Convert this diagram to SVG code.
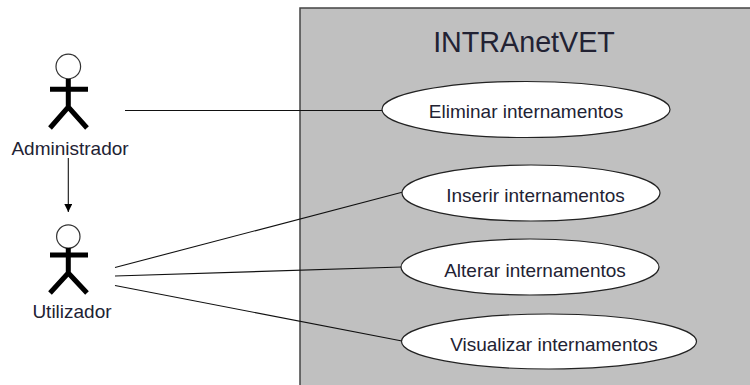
<svg xmlns="http://www.w3.org/2000/svg" width="750" height="385" viewBox="0 0 750 385">
<style>
text{font-family:"Liberation Sans",Arial,sans-serif;fill:#222233;text-anchor:middle}
.lbl{font-size:19px}
.uc ellipse{fill:#fff;stroke:#222;stroke-width:1.2}
.actor circle{fill:#fff;stroke:#333;stroke-width:1.2}
.actor path{fill:none;stroke:#000;stroke-width:5}
.conn line{stroke:#111;stroke-width:1.1}
</style>
<defs>
<marker id="arr" viewBox="0 0 10 10" refX="10" refY="5" markerWidth="8" markerHeight="8" markerUnits="userSpaceOnUse" orient="auto">
<path d="M0,0 L10,5 L0,10 Z" fill="#000"/>
</marker>
</defs>
<rect width="750" height="385" fill="#fff"/>
<g id="system">
<rect x="300" y="8" width="460" height="390" fill="#c0c0c0" stroke="#444" stroke-width="1.5"/>
<text x="524" y="52" font-size="28.7">INTRAnetVET</text>
</g>
<g id="connectors" class="conn">
<line x1="125" y1="110.5" x2="382" y2="110.5"/>
<line x1="68.3" y1="158" x2="68.3" y2="212" marker-end="url(#arr)"/>
<line x1="115" y1="267.5" x2="403" y2="192"/>
<line x1="115" y1="276" x2="402" y2="267"/>
<line x1="115" y1="285.5" x2="402" y2="341"/>
</g>
<g id="uc-eliminar" class="uc">
<ellipse cx="526" cy="109.5" rx="144" ry="28"/>
<text class="lbl" x="526" y="118">Eliminar internamentos</text>
</g>
<g id="uc-inserir" class="uc">
<ellipse cx="531" cy="193" rx="129" ry="28"/>
<text class="lbl" x="535.5" y="202">Inserir internamentos</text>
</g>
<g id="uc-alterar" class="uc">
<ellipse cx="530" cy="267" rx="129" ry="28"/>
<text class="lbl" x="535" y="276.5">Alterar internamentos</text>
</g>
<g id="uc-visualizar" class="uc">
<ellipse cx="549" cy="341.5" rx="147.5" ry="27.5"/>
<text class="lbl" x="554" y="350.5">Visualizar internamentos</text>
</g>
<g id="actor-administrador" class="actor">
<circle cx="68.3" cy="66.5" r="12.3"/>
<path d="M68.3,79 V107 M50,89.3 H88 M50,128 L68.3,107 L87,128"/>
<text class="lbl" x="70" y="155">Administrador</text>
</g>
<g id="actor-utilizador" class="actor">
<circle cx="68.3" cy="236.5" r="11.7"/>
<path d="M68.3,248 V273 M50,255 H88 M50,293 L68.3,273 L87,293"/>
<text class="lbl" x="72" y="318">Utilizador</text>
</g>
</svg>
